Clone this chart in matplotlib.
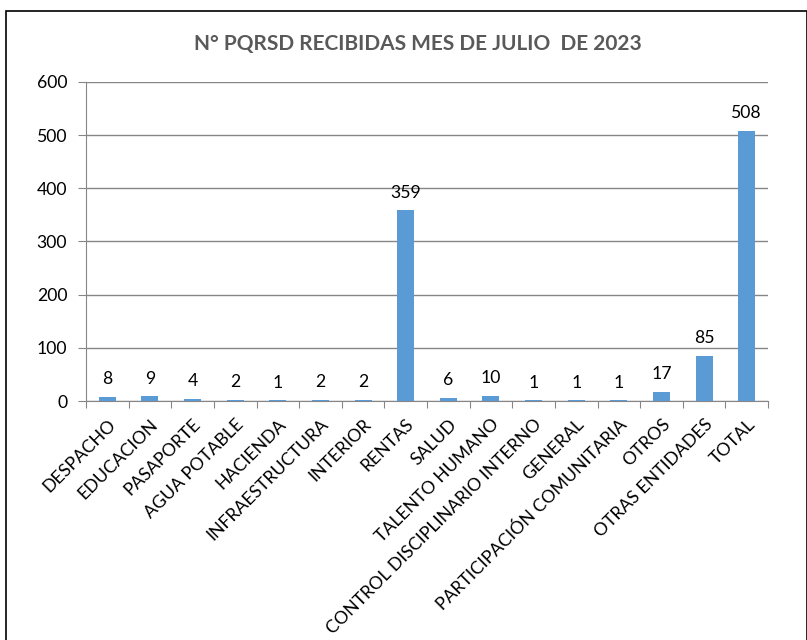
import matplotlib
matplotlib.use("Agg")
import matplotlib.pyplot as plt
from matplotlib.patches import Rectangle

categories = ["DESPACHO", "EDUCACION", "PASAPORTE", "AGUA POTABLE", "HACIENDA",
              "INFRAESTRUCTURA", "INTERIOR", "RENTAS", "SALUD", "TALENTO HUMANO",
              "CONTROL DISCIPLINARIO INTERNO", "GENERAL", "PARTICIPACIÓN COMUNITARIA",
              "OTROS", "OTRAS ENTIDADES", "TOTAL"]
values = [8, 9, 4, 2, 1, 2, 2, 359, 6, 10, 1, 1, 1, 17, 85, 508]
yticks = [0, 100, 200, 300, 400, 500, 600]

plt.rcParams['font.family'] = ['Lato', 'DejaVu Sans']
FS = 12.7

fig = plt.figure(figsize=(8.07, 6.4), dpi=100)
fig.patches.append(Rectangle((6/807, -0.01), (807-6.5)/807, 1 - 11/640 + 0.01,
                             transform=fig.transFigure, fill=False,
                             edgecolor='black', linewidth=1.2))
ax = fig.add_axes([86/807, 1 - 401/640, (768-86)/807, (401-82)/640])

x = list(range(len(categories)))
ax.bar(x, values, width=0.4, color='#5B9BD5', zorder=3)
for xi, v in zip(x, values):
    ax.annotate(str(v), (xi, v), xytext=(0, 9), textcoords='offset points',
                ha='center', va='baseline', fontsize=FS, color='black')

ax.set_xlim(-0.5, len(categories) - 0.5)
ax.set_ylim(0, 600)
ax.set_yticks(yticks)
ax.set_yticklabels([str(t) for t in yticks], fontsize=FS)
ax.yaxis.grid(True, color='#868686', linewidth=1, zorder=0)
ax.tick_params(axis='y', length=5.5, color='#868686', pad=8)

ax.set_xticks([i - 0.5 for i in range(len(categories) + 1)], minor=False)
ax.set_xticklabels([])
ax.set_xticks(x, minor=True)
ax.set_xticklabels(categories, minor=True, rotation=45, ha='right',
                   rotation_mode='anchor', fontsize=FS)
ax.tick_params(axis='x', which='major', length=5, color='#868686')
ax.tick_params(axis='x', which='minor', length=0, pad=11)

for s in ['top', 'right']:
    ax.spines[s].set_visible(False)
for s in ['left', 'bottom']:
    ax.spines[s].set_color('#868686')

fig.text(418 / 807, 1 - 44/640, "N° PQRSD RECIBIDAS MES DE JULIO  DE 2023",
         ha='center', va='center', fontsize=15, fontweight='bold', color='#595959')

fig.savefig("out.png", dpi=100)
